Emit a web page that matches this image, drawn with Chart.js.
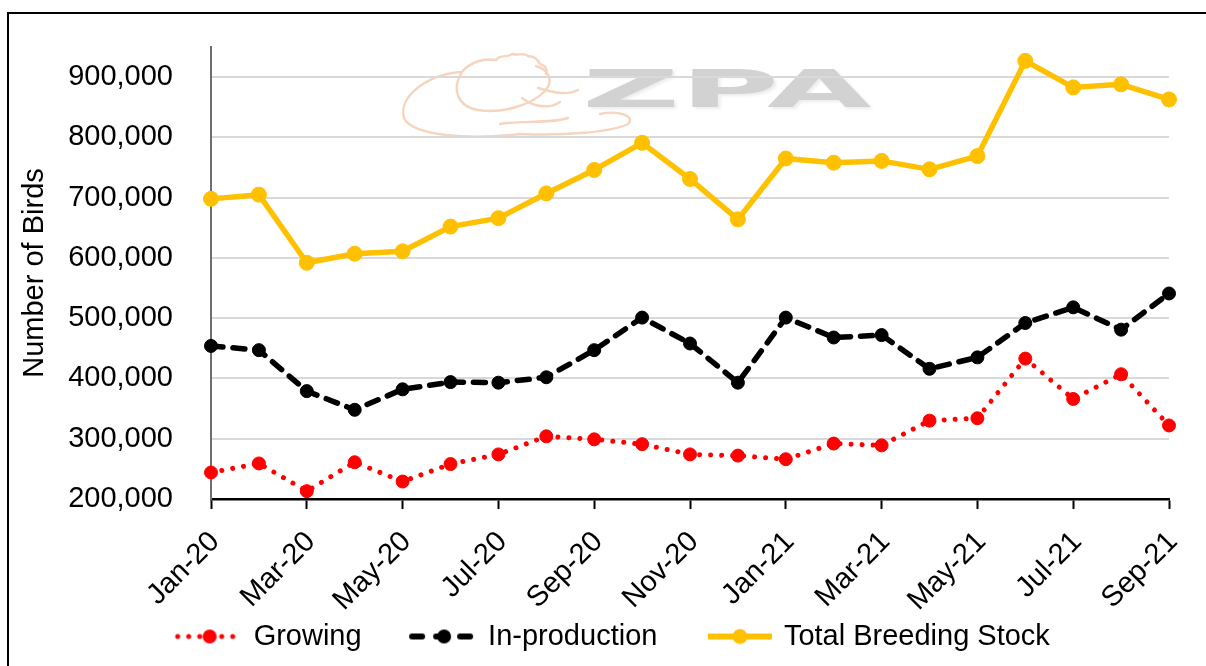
<!DOCTYPE html>
<html>
<head>
<meta charset="utf-8">
<script src="https://cdn.jsdelivr.net/npm/chart.js@4.4.1/dist/chart.umd.min.js"></script>
<style>
html,body{margin:0;padding:0;background:#fff;}
#wrap{position:relative;width:1206px;height:666px;overflow:hidden;background:#fff;}
#frame{position:absolute;left:7px;top:12px;width:1400px;height:900px;border:2px solid #000;box-sizing:border-box;}
#wm{position:absolute;left:0;top:0;width:1206px;height:666px;}
#zpa{position:absolute;left:582px;top:57px;font-family:"DejaVu Sans";font-weight:bold;font-size:52px;line-height:64px;color:#d2d2d2;letter-spacing:0px;transform:scaleX(2.6);transform-origin:0 0;text-shadow:1px 2px 2px #ececec;}
canvas{position:absolute;left:0;top:0;}
</style>
</head>
<body>
<div id="wrap">
  <div id="frame"></div>
  <svg id="wm" width="1206" height="666" xmlns="http://www.w3.org/2000/svg">
    <g fill="none" stroke="#f6d4bd" stroke-width="2.4" stroke-linecap="round" stroke-linejoin="round">
      <path d="M404 118 C398 96 428 74 462 72 C470 62 484 58 496 60"/>
      <path d="M404 118 C412 136 470 140 520 134 C565 136 612 132 628 124 C636 116 618 110 600 114"/>
      <path d="M496 60 C500 54 508 58 512 54 C518 56 524 52 528 56 C534 56 538 60 540 64 C546 66 548 70 546 74"/>
      <path d="M462 72 C452 88 456 106 478 110 C504 114 532 104 544 92 C554 82 550 70 536 66"/>
      <path d="M538 88 C552 92 566 96 578 90"/>
      <path d="M522 98 C532 106 548 110 560 102"/>
      <path d="M500 124 C524 120 550 124 568 118"/>
    </g>
  </svg>
  <div id="zpa">ZPA</div>
  <canvas id="c" width="1206" height="666"></canvas>
</div>
<script>
const months = ['Jan-20','Feb-20','Mar-20','Apr-20','May-20','Jun-20','Jul-20','Aug-20','Sep-20','Oct-20','Nov-20','Dec-20',
                'Jan-21','Feb-21','Mar-21','Apr-21','May-21','Jun-21','Jul-21','Aug-21','Sep-21'];
const growing = [244000,259000,213000,261000,229000,258000,274000,304000,299000,291000,274000,272000,
                 266000,292000,289000,330000,334000,433000,366000,407000,322000];
const inProduction = [454000,447000,379000,348000,382000,394000,393000,402000,447000,501000,458000,393000,
                      501000,468000,472000,416000,435000,492000,518000,481000,541000];
const totalStock = [698000,705000,592000,607000,611000,652000,666000,707000,746000,791000,731000,664000,
                    765000,758000,761000,747000,769000,927000,883000,888000,863000];
const yTickValues = [200000,300000,400000,500000,600000,700000,800000,900000];
const yMin = 200000, yMax = 950000;

const FONT = '"Liberation Sans", Arial, sans-serif';

function legendImage(kind){
  const W = 113, H = 20;
  const cv = document.createElement('canvas');
  cv.width = W; cv.height = H;
  const ctx = cv.getContext('2d');
  const x0 = 43, x1 = 113, cy = 10;
  ctx.beginPath();
  if (kind === 'growing') {
    ctx.strokeStyle = '#ff0000'; ctx.lineWidth = 5; ctx.lineCap = 'round';
    ctx.setLineDash([0.01, 11]);
  } else if (kind === 'prod') {
    ctx.strokeStyle = '#000000'; ctx.lineWidth = 6; ctx.lineCap = 'round';
    ctx.setLineDash([10, 14]);
  } else {
    ctx.strokeStyle = '#ffc000'; ctx.lineWidth = 6; ctx.lineCap = 'butt';
  }
  ctx.moveTo(x0 + 3, cy);
  ctx.lineTo(x1 - 3, cy);
  ctx.stroke();
  ctx.setLineDash([]);
  ctx.beginPath();
  const r = kind === 'total' ? 7.5 : 7;
  ctx.fillStyle = kind === 'growing' ? '#ff0000' : (kind === 'prod' ? '#000000' : '#ffc000');
  ctx.arc((x0 + x1) / 2, cy, r, 0, Math.PI * 2);
  ctx.fill();
  return cv;
}
const legImgs = [legendImage('growing'), legendImage('prod'), legendImage('total')];

new Chart(document.getElementById('c'), {
  type: 'line',
  data: {
    labels: months,
    datasets: [
      {
        label: 'Growing', data: growing,
        borderColor: '#ff0000', backgroundColor: '#ff0000',
        borderWidth: 5, borderDash: [0.01, 11], borderCapStyle: 'round',
        pointRadius: 6.5, pointBackgroundColor: '#ff0000', pointBorderColor: '#ff0000', pointBorderWidth: 1,
        tension: 0
      },
      {
        label: 'In-production', data: inProduction,
        borderColor: '#000000', backgroundColor: '#000000',
        borderWidth: 5.5, borderDash: [12, 10], borderCapStyle: 'round',
        pointRadius: 6.5, pointBackgroundColor: '#000000', pointBorderColor: '#000000', pointBorderWidth: 1,
        tension: 0
      },
      {
        label: 'Total Breeding Stock', data: totalStock,
        borderColor: '#ffc000', backgroundColor: '#ffc000',
        borderWidth: 5.5, borderCapStyle: 'round', borderJoinStyle: 'round',
        pointRadius: 7.5, pointBackgroundColor: '#ffc000', pointBorderColor: '#ffc000', pointBorderWidth: 1,
        tension: 0
      }
    ]
  },
  options: {
    responsive: false,
    animation: false,
    devicePixelRatio: 1,
    layout: { padding: { top: 47, right: 37, bottom: 5, left: 18 } },
    plugins: {
      tooltip: { enabled: false },
      legend: {
        position: 'bottom',
        labels: {
          usePointStyle: true,
          pointStyleWidth: 102,
          boxHeight: 20,
          padding: 10,
          color: '#000',
          font: { family: FONT, size: 29 },
          generateLabels(chart) {
            return chart.data.datasets.map((ds, i) => ({
              text: ds.label,
              fillStyle: ds.borderColor,
              strokeStyle: ds.borderColor,
              fontColor: '#000',
              lineWidth: 0,
              pointStyle: legImgs[i],
              hidden: false,
              datasetIndex: i
            }));
          }
        }
      }
    },
    scales: {
      x: {
        type: 'category',
        offset: false,
        afterFit(scale) { scale.height = 113; scale.paddingLeft = 0; scale.paddingRight = 0; },
        border: { display: true, color: '#000000', width: 2.5 },
        grid: {
          display: true,
          drawOnChartArea: false,
          drawTicks: true,
          tickLength: 10,
          tickWidth: 2,
          tickColor: (ctx) => (ctx.index % 2 === 0 ? '#000000' : 'rgba(0,0,0,0)')
        },
        ticks: {
          autoSkip: false,
          minRotation: 45,
          maxRotation: 45,
          padding: 16,
          labelOffset: 4,
          color: '#000',
          font: { family: FONT, size: 29 },
          callback: (v, i) => (i % 2 === 0 ? months[i] : '')
        }
      },
      y: {
        min: yMin,
        max: yMax,
        afterFit(scale) { scale.width = 193; scale.paddingTop = 0; scale.paddingBottom = 0; },
        afterBuildTicks(scale) { scale.ticks = yTickValues.map(v => ({ value: v })); },
        border: { display: true, color: '#6e6e6e', width: 2 },
        grid: { color: '#d9d9d9', lineWidth: 2, drawTicks: false },
        ticks: {
          padding: 38,
          color: '#000',
          font: { family: FONT, size: 29 },
          callback: (v) => v.toLocaleString('en-US')
        },
        title: {
          display: true,
          text: 'Number of Birds',
          color: '#000',
          font: { family: FONT, size: 29 },
          padding: { top: 0, bottom: 0 }
        }
      }
    }
  }
});
</script>
</body>
</html>
